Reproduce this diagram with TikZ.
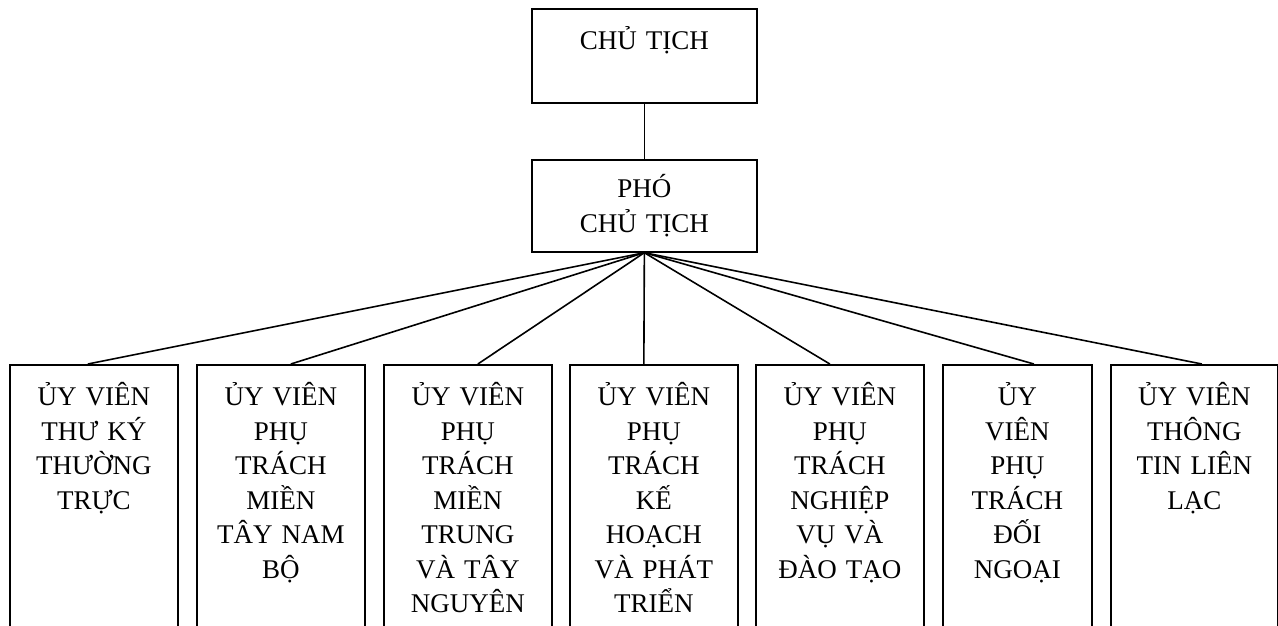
\documentclass[tikz,border=0pt]{standalone}
\usepackage{fontspec}
\setmainfont{Liberation Serif}
\usetikzlibrary{calc}
\begin{document}
\begin{tikzpicture}[x=1pt,y=-1pt,
  box/.style={draw, line width=1.7pt, inner sep=0pt, align=center,
    font=\fontsize{27}{34.5}\selectfont, anchor=north west},
  low/.style={box, text height=41pt, text depth=250pt},
  link/.style={line width=1.6pt}]
\clip (0,0) rectangle (1278,626);
\fill[white] (0,0) rectangle (1278,626);
\node[box, text width=225pt, text height=41pt, text depth=53pt] (c) at (531,8) {CHỦ TỊCH};
\node[box, text width=225pt, text height=38pt, text depth=54pt] (p) at (531,159) {PHÓ\\CHỦ TỊCH};
\node[low, text width=168pt] (b1) at (9,364) {ỦY VIÊN\\THƯ KÝ\\THƯỜNG\\TRỰC};
\node[low, text width=168pt] (b2) at (196,364) {ỦY VIÊN\\PHỤ\\TRÁCH\\MIỀN\\TÂY NAM\\BỘ};
\node[low, text width=168pt] (b3) at (383,364) {ỦY VIÊN\\PHỤ\\TRÁCH\\MIỀN\\TRUNG\\VÀ TÂY\\NGUYÊN};
\node[low, text width=168pt] (b4) at (569,364) {ỦY VIÊN\\PHỤ\\TRÁCH\\KẾ\\HOẠCH\\VÀ PHÁT\\TRIỂN};
\node[low, text width=168pt] (b5) at (755,364) {ỦY VIÊN\\PHỤ\\TRÁCH\\NGHIỆP\\VỤ VÀ\\ĐÀO TẠO};
\node[low, text width=149pt] (b6) at (942,364) {ỦY\\VIÊN\\PHỤ\\TRÁCH\\ĐỐI\\NGOẠI};
\node[low, text width=167pt] (b7) at (1110,364) {ỦY VIÊN\\THÔNG\\TIN LIÊN\\LẠC};
\draw[link] (c.south) -- (p.north);
\draw[link] (p.south) -- ($(b1.north)+(-6,0)$);
\draw[link] (p.south) -- ($(b2.north)+(10,0)$);
\draw[link] (p.south) -- ($(b3.north)+(10,0)$);
\draw[link] (p.south) -- ($(b4.north)+(-10,0)$);
\draw[link] (p.south) -- ($(b5.north)+(-10,0)$);
\draw[link] (p.south) -- ($(b6.north)+(16.5,0)$);
\draw[link] (p.south) -- ($(b7.north)+(7.5,0)$);
\end{tikzpicture}
\end{document}
